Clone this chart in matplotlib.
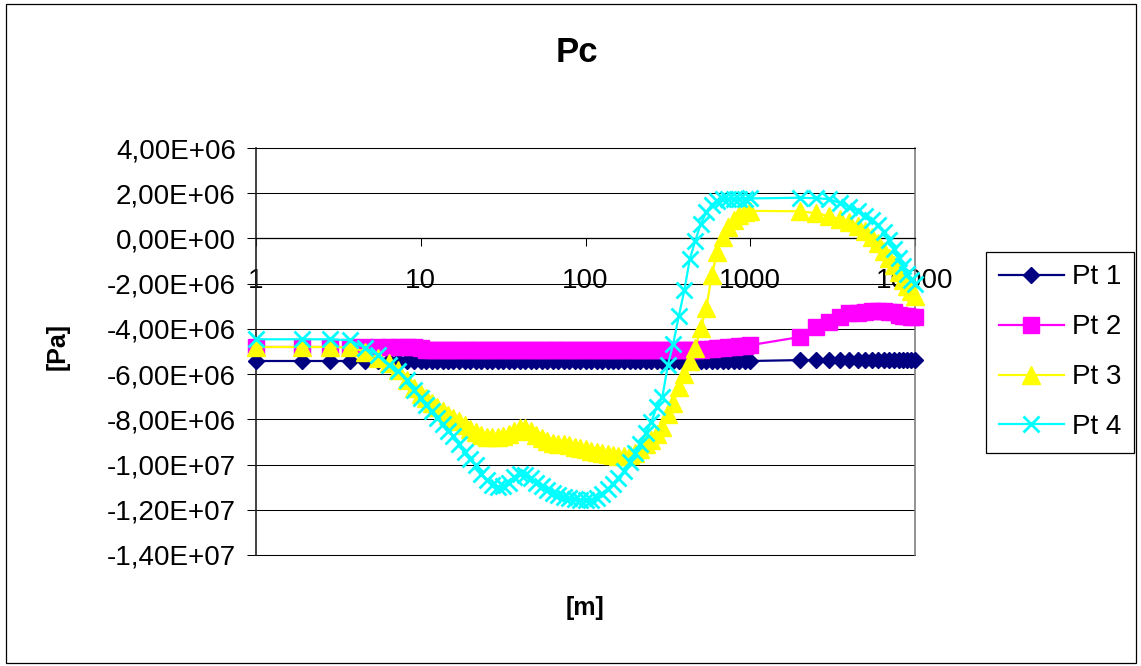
import matplotlib
matplotlib.use('Agg')
import matplotlib.pyplot as plt
import numpy as np
from matplotlib.ticker import FixedLocator, FixedFormatter, FuncFormatter, NullLocator
from matplotlib.patches import Rectangle

plt.rcParams['font.family'] = ['Liberation Sans', 'DejaVu Sans']

# ---------------- data ----------------
x_m = [1, 1.9, 2.8, 3.7, 4.6, 5.5, 6.4, 7.3, 8.2, 9.1,
       10, 10.8, 11.7, 12.6, 13.6, 14.7, 15.8, 17.1, 18.5, 20, 21.5, 23.3, 25.1, 27.1, 29.3,
       31.6, 34.1, 36.8, 39.8, 43, 46.4, 50.1, 54.1, 58.4, 63.1, 68.1, 73.6, 79.4, 85.8, 92.6,
       100, 108, 117, 126, 136, 147, 158, 171, 185, 200, 215, 233, 251, 271, 293,
       316, 341, 368, 398, 430, 464, 501, 541, 584, 631, 681, 736, 794, 858, 926, 1000,
       2000, 2500, 3000, 3500, 4000, 4500, 5000, 5500, 6000, 6500, 7000, 7500, 8000, 8500,
       9000, 9500, 10000]

# values in MPa
pt1_mpa = [-5.42] * 10 + [-5.42] * 61 + [-5.38] * 17

pt2_mpa = ([-4.80] * 10 +
           [-4.85] + [-4.93] * 50 +
           [-4.92, -4.90, -4.88, -4.86, -4.84, -4.82, -4.80, -4.77, -4.74, -4.72] +
           [-4.36, -3.92, -3.70, -3.48, -3.30, -3.28, -3.24, -3.22, -3.22, -3.22, -3.24,
            -3.26, -3.38, -3.42, -3.45, -3.47, -3.47])

pt3_mpa = [-4.80, -4.80, -4.80, -4.82, -5.00, -5.30, -5.50, -5.80, -6.27, -6.60,
           -6.88, -7.06, -7.28, -7.46, -7.64, -7.80, -7.95, -8.08, -8.26, -8.43, -8.56, -8.70,
           -8.79, -8.80, -8.79, -8.74, -8.65, -8.52, -8.40, -8.40, -8.52, -8.70, -8.83, -8.96,
           -9.05, -9.10, -9.10, -9.14, -9.23, -9.27,
           -9.32, -9.40, -9.45, -9.50, -9.54, -9.58, -9.62, -9.62, -9.58, -9.48, -9.30, -9.10,
           -8.90, -8.65, -8.34, -7.77, -7.28, -6.58, -6.00, -5.42, -4.85, -3.96, -3.08, -1.62,
           -0.60, 0.06, 0.50, 0.81, 1.04, 1.17, 1.22,
           1.20, 1.12, 0.99, 0.86, 0.73, 0.55, 0.33, 0.06, -0.20, -0.56, -0.87, -1.18, -1.49,
           -1.84, -2.10, -2.33, -2.55]

pt4_mpa = [-4.46, -4.46, -4.46, -4.50, -4.85, -5.15, -5.60, -5.87, -6.27, -6.70,
           -7.06, -7.37, -7.64, -7.95, -8.20, -8.50, -8.74, -9.10, -9.45, -9.76, -10.03, -10.40,
           -10.70, -10.90, -11.00, -10.95, -10.80, -10.55, -10.40, -10.47, -10.60, -10.80,
           -10.95, -11.13, -11.26, -11.35, -11.45, -11.48, -11.53, -11.57,
           -11.57, -11.57, -11.50, -11.30, -11.10, -10.85, -10.60, -10.30, -9.90, -9.50, -9.10,
           -8.60, -8.10, -7.45, -7.00, -5.60, -4.65, -3.45, -2.30, -0.90, -0.10, 0.65, 1.15,
           1.50, 1.66, 1.73, 1.75, 1.76, 1.76, 1.76, 1.77,
           1.80, 1.78, 1.74, 1.57, 1.39, 1.21, 0.99, 0.81, 0.59, 0.28, -0.07, -0.47, -0.87,
           -1.22, -1.57, -1.84, -2.00]

series_names = ['Pt 1', 'Pt 2', 'Pt 3', 'Pt 4']
series_values = [pt1_mpa, pt2_mpa, pt3_mpa, pt4_mpa]

x_ticks = [1, 10, 100, 1000, 10000]
x_tick_labels = ['1', '10', '100', '1000', '10000']
y_ticks = [4e6, 2e6, 0, -2e6, -4e6, -6e6, -8e6, -1e7, -1.2e7, -1.4e7]

# ---------------- styles ----------------
styles = [
    dict(color='#000080', marker='D', ms=8.5, mew=1),
    dict(color='#FF00FF', marker='s', ms=11.5, mew=1),
    dict(color='#FFFF00', marker='^', ms=12.5, mew=1),
    dict(color='#00FFFF', marker='x', ms=12, mew=2.0),
]

W, H = 1141, 666
fig = plt.figure(figsize=(W / 100, H / 100), dpi=100)
fig.patch.set_facecolor('white')
ax = fig.add_axes([256 / W, 1 - 555 / H, (915 - 256) / W, (555 - 148) / H])

for i, (name, vals, st) in enumerate(zip(series_names, series_values, styles)):
    ax.plot(x_m, np.array(vals) * 1e6, lw=1.6, label=name, clip_on=False,
            mec=st['color'], mfc=st['color'], zorder=3 + i, **st)

ax.set_xscale('log')
ax.set_xlim(1, 10000)
ax.set_ylim(-1.4e7, 4e6)
ax.yaxis.set_major_locator(FixedLocator(y_ticks))
ax.yaxis.set_major_formatter(FuncFormatter(lambda v, p: f"{v:.2E}".replace('.', ',')))
ax.xaxis.set_major_locator(FixedLocator(x_ticks))
ax.xaxis.set_major_formatter(FixedFormatter(x_tick_labels))
ax.xaxis.set_minor_locator(NullLocator())

ax.grid(axis='y', color='black', lw=0.75)
ax.grid(axis='x', visible=False)
ax.set_axisbelow(True)
ax.axhline(-1.4e7, color='black', lw=0.75, clip_on=False, zorder=1)

ax.spines['bottom'].set_position(('data', 0))
ax.spines['bottom'].set_color('black')
ax.spines['bottom'].set_linewidth(0.9)
ax.spines['top'].set_color('black')
ax.spines['top'].set_linewidth(0.75)
ax.spines['left'].set_color('#222222')
ax.spines['left'].set_linewidth(1.2)
ax.spines['right'].set_color('#808080')
ax.spines['right'].set_linewidth(1.2)

ax.tick_params(axis='y', direction='out', length=6.5, width=0.75, labelsize=20, pad=8)
ax.tick_params(axis='x', direction='out', length=6, width=0.75, labelsize=20, pad=15)

leg = ax.legend(loc='upper left', bbox_to_anchor=(986 / W, 1 - 252 / H),
                bbox_transform=fig.transFigure, frameon=True, fancybox=False,
                edgecolor='black', framealpha=1, fontsize=20, handlelength=2.34,
                handletextpad=0.3, labelspacing=0.86, borderpad=0.45, borderaxespad=0,
                numpoints=1)
leg.get_frame().set_linewidth(0.9)

fig.text(577 / W, 1 - 53 / H, 'Pc', fontsize=25, fontweight='bold', ha='center', va='center')
fig.text(585 / W, 1 - 608 / H, '[m]', fontsize=18, fontweight='bold', ha='center', va='center')
fig.text(58 / W, 1 - 347 / H, '[Pa]', fontsize=18, fontweight='bold', rotation=90,
         ha='center', va='center')

fig.add_artist(Rectangle((5.5 / W, 3.5 / H), (1136 - 5.5) / W, (662 - 3.5) / H,
                         transform=fig.transFigure, fill=False, ec='black', lw=0.9))

fig.savefig('out.png', dpi=100, facecolor='white')
